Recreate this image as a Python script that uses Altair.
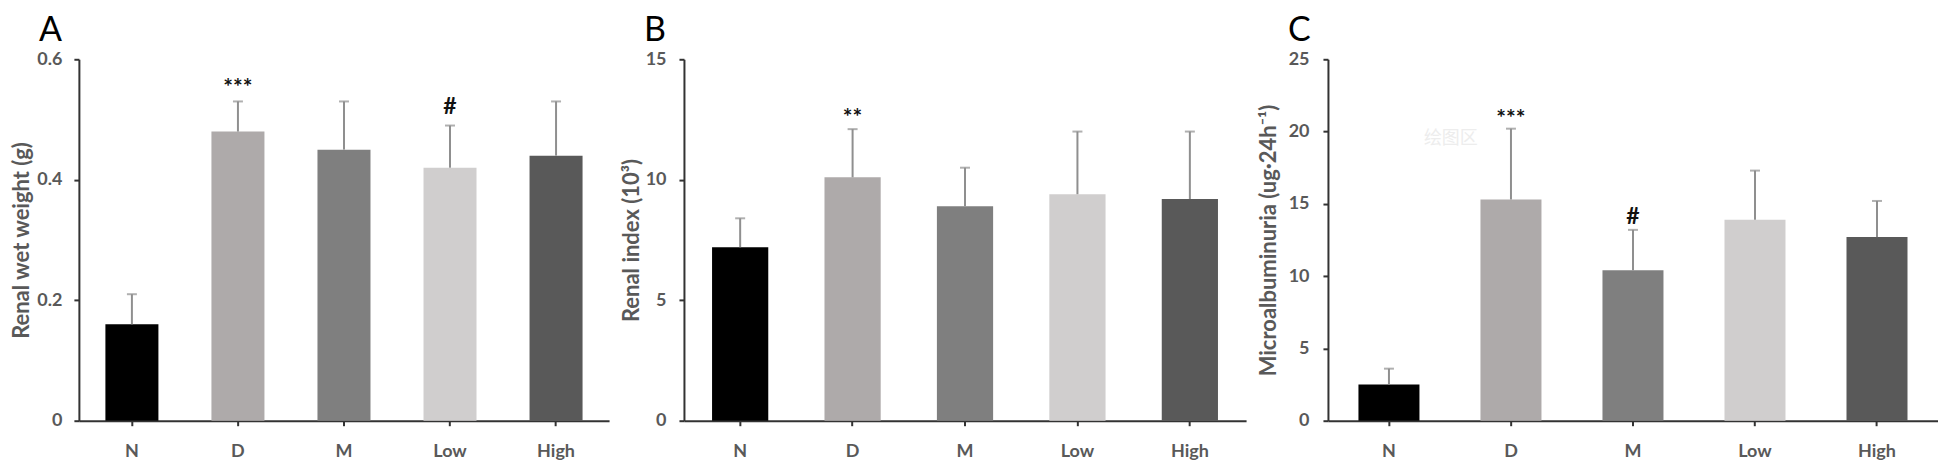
import altair as alt
import pandas as pd

groups = ["N", "D", "M", "Low", "High"]
colors = ["#000000", "#aeaaaa", "#7f7f7f", "#d0cece", "#595959"]

# Panel A: renal wet weight (g)
wet_mean = [0.16, 0.48, 0.45, 0.42, 0.44]
wet_upper = [0.21, 0.53, 0.53, 0.49, 0.53]
wet_sig = ["", "***", "", "#", ""]
wet_sig_y = [None, 0.558, None, 0.525, None]

# Panel B: renal index (10^3)
idx_mean = [7.2, 10.1, 8.9, 9.4, 9.2]
idx_upper = [8.4, 12.1, 10.5, 12.0, 12.0]
idx_sig = ["", "**", "", "", ""]
idx_sig_y = [None, 12.7, None, None, None]

# Panel C: microalbuminuria (ug/24h)
alb_mean = [2.5, 15.3, 10.4, 13.9, 12.7]
alb_upper = [3.6, 20.2, 13.2, 17.3, 15.2]
alb_sig = ["", "***", "#", "", ""]
alb_sig_y = [None, 21.1, 14.3, None, None]

watermark = ["绘图区"]
watermark_y = [19.5]

FONT = "Lato"
GRAY = "#595959"
AXC = "#333333"


def panel(letter, mean, upper, sig, sig_y, ymax, yvals, ytitle, width, height,
          title_pad, label_pad, extra=None):
    df = pd.DataFrame({"g": groups, "mean": mean, "upper": upper,
                       "sig": sig, "sig_y": sig_y})
    base = alt.Chart(df)
    xaxis = alt.Axis(title=None, labelAngle=0, domainColor=AXC, domainWidth=2,
                     tickColor=AXC, tickWidth=2, tickSize=5, labelPadding=17,
                     labelFont=FONT, labelFontSize=18, labelFontWeight="bold",
                     labelColor=GRAY)
    xscale = alt.Scale(domain=groups, paddingInner=0.5, paddingOuter=0.25)
    yaxis = alt.Axis(title=ytitle, values=yvals, format="~g", grid=False,
                     domainColor=AXC, domainWidth=2, tickColor=AXC, tickWidth=2,
                     tickSize=5, labelPadding=label_pad, titlePadding=title_pad,
                     labelFont=FONT, labelFontSize=18, labelFontWeight="bold",
                     labelColor=GRAY, titleFont=FONT, titleFontSize=22,
                     titleFontWeight="bold", titleColor=GRAY)
    yscale = alt.Scale(domain=[0, ymax], nice=False)
    X = alt.X("g:N", sort=groups, scale=xscale, axis=xaxis)

    bars = base.mark_bar().encode(
        x=X,
        y=alt.Y("mean:Q", scale=yscale, axis=yaxis),
        color=alt.Color("g:N", scale=alt.Scale(domain=groups, range=colors), legend=None),
    )
    err = base.mark_rule(color="#8f8f8f", strokeWidth=2).encode(
        x=X,
        y=alt.Y("mean:Q", scale=yscale, axis=yaxis),
        y2="upper:Q",
    )
    caps = base.mark_tick(color="#8f8f8f", size=10, thickness=2).encode(
        x=X,
        y=alt.Y("upper:Q", scale=yscale, axis=yaxis),
    )
    stars = base.transform_filter("datum.sig != ''").mark_text(
        font=FONT, fontSize=23, fontWeight="bold", color="#111111", baseline="middle",
        dy=3
    ).encode(
        x=X,
        y=alt.Y("sig_y:Q", scale=yscale, axis=yaxis),
        text="sig:N",
    )
    layers = [bars, err, caps, stars]
    if extra is not None:
        wdf = pd.DataFrame({"g": ["N"], "t": extra[0], "y": extra[1]})
        wm = alt.Chart(wdf).mark_text(
            font="Noto Sans CJK SC", fontSize=18, color="#ededed", dx=62,
            baseline="middle"
        ).encode(
            x=X,
            y=alt.Y("y:Q", scale=yscale, axis=yaxis),
            text="t:N",
        )
        layers.insert(1, wm)
    return alt.layer(*layers).properties(
        width=width, height=height,
        title=alt.TitleParams(letter, anchor="start", frame="group", dx=-40,
                              fontSize=34, fontWeight="normal", font=FONT,
                              color="#000000", offset=2),
    )


a = panel("A", wet_mean, wet_upper, wet_sig, wet_sig_y, 0.6, [0, 0.2, 0.4, 0.6],
          "Renal wet weight (g)", 531, 362, 3, 12)
b = panel("B", idx_mean, idx_upper, idx_sig, idx_sig_y, 15, [0, 5, 10, 15],
          "Renal index (10³)", 563, 362, 2, 13)
c = panel("C", alb_mean, alb_upper, alb_sig, alb_sig_y, 25, [0, 5, 10, 15, 20, 25],
          "Microalbuminuria (ug·24h⁻¹)", 611, 362, 8, 14,
          extra=(watermark, watermark_y))

chart = alt.hconcat(a, b, c, spacing=11).properties(
    padding={"left": 2, "top": 6, "right": 0, "bottom": 0}
).configure_view(stroke=None)

chart.save("out.html", embed_options={"renderer": "svg", "actions": False})
